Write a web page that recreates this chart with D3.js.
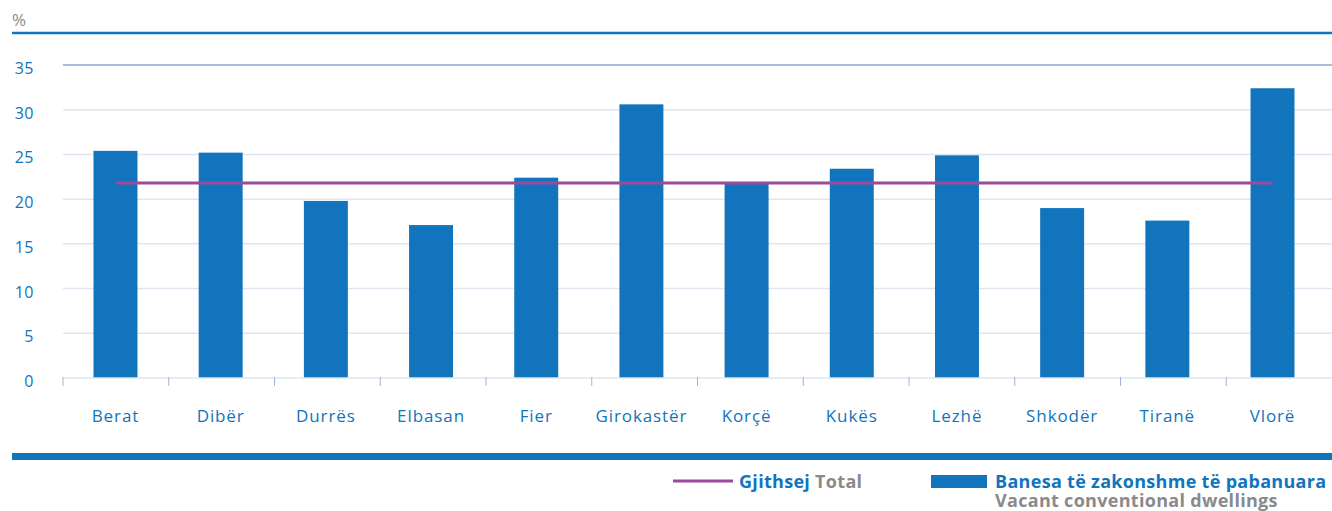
<!DOCTYPE html>
<html>
<head>
<meta charset="utf-8">
<script src="https://cdn.jsdelivr.net/npm/d3@7"></script>
<style>
  body { margin: 0; background: #fff; }
  svg { display: block; font-family: "Open Sans", "Noto Sans", sans-serif; }
</style>
</head>
<body>
<svg id="chart"></svg>
<script>
const categories = ["Berat", "Dibër", "Durrës", "Elbasan", "Fier", "Girokastër", "Korçë", "Kukës", "Lezhë", "Shkodër", "Tiranë", "Vlorë"]
const vacant = [25.4, 25.2, 19.8, 17.1, 22.4, 30.6, 21.8, 23.4, 24.9, 19.0, 17.6, 32.4]
const total = 21.8
const yTicks = [0, 5, 10, 15, 20, 25, 30, 35]

const WIDTH = 1332
const HEIGHT = 511
const BLUE = "#1174bc"
const PURPLE = "#9b4a9c"
const GREY = "#8a8a8a"

const svg = d3.select("#chart").attr("width", WIDTH).attr("height", HEIGHT)

const x = d3.scaleBand().domain(categories).range([63, 1325]).paddingInner(0.582).paddingOuter(0.29)
const xEdges = d3.scaleBand().domain(categories).range([63, 1332]).padding(0)
const y = d3.scaleLinear().domain([0, 35]).range([378, 65])

// header
svg.append("text").attr("x", 12).attr("y", 26).text("%")
    .style("fill", GREY).style("font-size", "17px")
svg.append("line").attr("x1", 12).attr("x2", WIDTH).attr("y1", 33).attr("y2", 33)
    .attr("stroke", BLUE).attr("stroke-width", 2.5)

// gridlines
svg.append("g").selectAll("line").data(yTicks.filter(d => d > 0)).enter().append("line")
    .attr("x1", 63).attr("x2", WIDTH)
    .attr("y1", d => y(d)).attr("y2", d => y(d))
    .attr("stroke", d => d === 35 ? "#8ea6d0" : "#dfe6f2")
    .attr("stroke-width", 1.5)

// y labels
svg.append("g").selectAll("text").data(yTicks).enter().append("text")
    .attr("x", 34).attr("y", d => y(d) + 9)
    .attr("text-anchor", "end")
    .text(d => d)
    .style("fill", BLUE).style("font-size", "16px").style("letter-spacing", "0.5px")

// bars
svg.append("g").selectAll("rect").data(vacant).enter().append("rect")
    .attr("x", (d, i) => x(categories[i]))
    .attr("width", x.bandwidth())
    .attr("y", d => y(d))
    .attr("height", d => y(0) - y(d))
    .attr("fill", BLUE)

// x axis
const xAxis = svg.append("g")
xAxis.append("line").attr("x1", 63).attr("x2", WIDTH).attr("y1", y(0)).attr("y2", y(0))
    .attr("stroke", "#dfe6f2").attr("stroke-width", 1.5)
xAxis.selectAll(".tick").data(categories).enter().append("line")
    .attr("x1", d => xEdges(d)).attr("x2", d => xEdges(d))
    .attr("y1", y(0) - 1).attr("y2", y(0) + 8)
    .attr("stroke", "#9fb4d8").attr("stroke-width", 1)
xAxis.selectAll("text").data(categories).enter().append("text")
    .attr("x", d => x(d) + x.bandwidth() / 2)
    .attr("y", 422)
    .attr("text-anchor", "middle")
    .text(d => d)
    .style("fill", BLUE).style("font-size", "17px").style("letter-spacing", "0.9px")

// total line
svg.append("line")
    .attr("x1", x(categories[0]) + x.bandwidth() / 2)
    .attr("x2", x(categories[categories.length - 1]) + x.bandwidth() / 2)
    .attr("y1", y(total)).attr("y2", y(total))
    .attr("stroke", PURPLE).attr("stroke-width", 3)

// bottom band
svg.append("rect").attr("x", 12).attr("y", 453).attr("width", WIDTH - 12).attr("height", 7)
    .attr("fill", BLUE)

// legend
const legend = svg.append("g").style("font-size", "18px").style("font-weight", "bold")
    .style("letter-spacing", "0.3px")
legend.append("line").attr("x1", 673).attr("x2", 733).attr("y1", 481).attr("y2", 481)
    .attr("stroke", PURPLE).attr("stroke-width", 3)
const t1 = legend.append("text").attr("x", 739).attr("y", 488)
t1.append("tspan").text("Gjithsej").style("fill", BLUE)
t1.append("tspan").text(" Total").style("fill", GREY)
legend.append("rect").attr("x", 931).attr("y", 475).attr("width", 56).attr("height", 13)
    .attr("fill", BLUE)
legend.append("text").attr("x", 995).attr("y", 488).text("Banesa të zakonshme të pabanuara")
    .style("fill", BLUE)
legend.append("text").attr("x", 995).attr("y", 507).text("Vacant conventional dwellings")
    .style("fill", GREY)
</script>
</body>
</html>
